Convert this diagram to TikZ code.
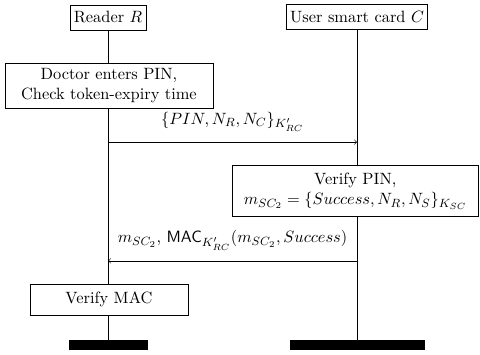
\documentclass[11pt,tikz,border=0pt]{standalone}
\usepackage{amsmath}
\usepackage{amssymb}
\usepackage{tikz}
\usetikzlibrary{positioning, arrows, calc}
\pgfdeclarelayer{background}
\pgfdeclarelayer{foreground}
\pgfsetlayers{background,main,foreground}
\newcommand{\Msg}{m_{SC_2}}
\newcommand{\Key}[1]{K_{#1}}
\tikzset{
    party/.style={draw, fill=white, inner sep=2.5pt, minimum height=0.59cm},
    action/.style={draw, fill=white, align=center, inner sep=3pt},
    endbar/.style={draw, fill=black, minimum height=0.21cm, inner sep=0pt},
    lifeline/.style={semithick},
    msg/.style={->, thin},
}

\begin{document}
\begin{tikzpicture}
    \useasboundingbox (0,0) rectangle (11.28,-8.32);

    \node[party] (rdr) at (2.54,-0.41) {Reader $R$};
    \node[party] (card) at (8.39,-0.39) {User smart card $C$};

    \node[action, minimum width=4.89cm, minimum height=1.06cm] (pin) at (2.56,-2.01)
        {Doctor enters PIN,\\ Check token-expiry time};
    \node[action, minimum width=5.80cm, minimum height=1.20cm] (vpin) at (8.35,-4.49)
        {Verify PIN,\\ $\Msg = \{Success, N_R, N_S\}_{\Key{SC}}$};
    \node[action, minimum width=3.71cm, minimum height=0.73cm] (vmac) at (2.56,-7.04)
        {Verify MAC};

    \node[endbar, minimum width=1.83cm, anchor=north] (rend) at (2.54,-7.99) {};
    \node[endbar, minimum width=3.15cm, anchor=north] (cend) at (8.39,-7.99) {};

    \begin{pgfonlayer}{background}
      \draw[lifeline] (rdr.south) -- (rdr.south |- rend.north);
      \draw[lifeline] (card.south) -- (card.south |- cend.north);
    \end{pgfonlayer}

    \coordinate (m1r) at (rdr.south |- 0,-3.34);
    \coordinate (m1c) at (card.south |- 0,-3.34);
    \coordinate (m2r) at (rdr.south |- 0,-6.13);
    \coordinate (m2c) at (card.south |- 0,-6.13);

    \draw (m1r) edge[msg] node[above=3pt]{$\{PIN, N_R, N_C\}_{\Key{RC}'}$} (m1c);
    \draw (m2c) edge[msg] node[above=3pt]{$\Msg$, $\mathsf{MAC}_{\Key{RC}'}(\Msg, Success)$} (m2r);
\end{tikzpicture}
\end{document}
